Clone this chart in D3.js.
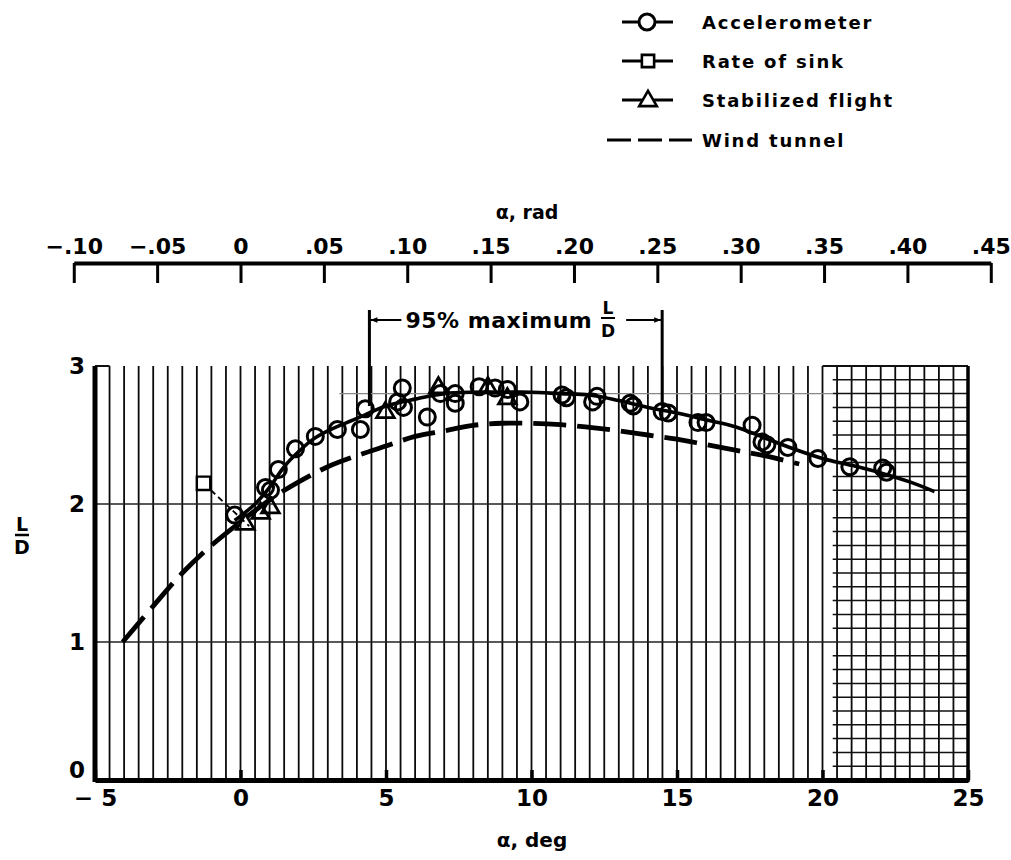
<!DOCTYPE html>
<html>
<head>
<meta charset="utf-8">
<script src="https://cdn.jsdelivr.net/npm/d3@7"></script>
<style>
  html, body { margin: 0; padding: 0; background: #fff; }
  svg { display: block; }
  text { font-family: "DejaVu Sans", "Liberation Sans", sans-serif; font-weight: bold; fill: #000; }
</style>
</head>
<body>
<script>
// Lift-drag ratio against angle of attack: flight data and wind tunnel.
const accelerometer = [
  [-0.2, 1.92], [0.86, 2.12], [1.03, 2.10], [1.3, 2.25], [1.89, 2.40], [2.57, 2.49],
  [3.33, 2.54], [4.12, 2.54], [4.29, 2.69], [5.4, 2.74], [5.56, 2.84], [5.6, 2.70],
  [6.42, 2.63], [6.87, 2.80], [7.38, 2.80], [7.38, 2.73], [8.2, 2.85], [8.75, 2.84],
  [9.17, 2.83], [9.6, 2.74], [11.05, 2.79], [11.2, 2.77], [12.1, 2.74], [12.25, 2.78],
  [13.39, 2.73], [13.5, 2.71], [14.49, 2.67], [14.7, 2.66], [15.72, 2.59], [16.0, 2.59],
  [17.58, 2.57], [17.92, 2.45], [18.09, 2.43], [18.81, 2.41], [19.84, 2.33], [20.94, 2.27],
  [22.07, 2.26], [22.2, 2.23]
];
const rateOfSink = [[-1.27, 2.15]];
const stabilized = [
  [0.17, 1.86], [0.69, 1.94], [1.03, 1.98], [4.98, 2.67], [6.8, 2.85], [8.5, 2.85], [9.17, 2.77]
];
// faired curve through the flight points
const flightFairing = [
  [-0.2, 1.88], [0.5, 2.0], [1, 2.12], [1.5, 2.27], [2, 2.38], [2.5, 2.47], [3, 2.53],
  [4, 2.62], [5, 2.71], [6, 2.76], [7, 2.8], [8, 2.81], [9, 2.81], [10, 2.81], [11, 2.8],
  [12, 2.79], [13, 2.75], [14, 2.7], [15, 2.66], [16, 2.61], [17, 2.56], [18, 2.48],
  [19, 2.4], [20, 2.33], [21, 2.28], [22, 2.225], [23, 2.16], [23.85, 2.09]
];
const sinkFairing = [[-1.27, 2.15], [0.3, 1.84]];
const windTunnel = [
  [-4.05, 1.0], [-3, 1.26], [-2, 1.5], [-1, 1.7], [0, 1.87], [1, 2.03], [2, 2.16],
  [3, 2.27], [4, 2.35], [5, 2.42], [6, 2.49], [7, 2.53], [8, 2.57], [9, 2.585],
  [10, 2.585], [11, 2.575], [12, 2.555], [13, 2.53], [14, 2.5], [15, 2.47], [16, 2.43],
  [17, 2.39], [18, 2.35], [19.2, 2.29]
];
// 95 percent of maximum L/D band, deg
const band95 = [4.43, 14.49];

const degTicks = [-5, 0, 5, 10, 15, 20, 25];
const radTicks = [-0.10, -0.05, 0, 0.05, 0.10, 0.15, 0.20, 0.25, 0.30, 0.35, 0.40, 0.45];
const ldTicks = [0, 1, 2, 3];
const legendItems = ["Accelerometer", "Rate of sink", "Stabilized flight", "Wind tunnel"];

const W = 1011, H = 860;
const svg = d3.select("body").append("svg").attr("width", W).attr("height", H);

const x = d3.scaleLinear().domain([-5, 25]).range([95, 968]);
const y = d3.scaleLinear().domain([0, 3]).range([780, 366]);
const toDeg = 180 / Math.PI;
const xr = d3.scaleLinear().domain([-0.10, 0.45]).range([x(-0.10 * toDeg), x(0.45 * toDeg)]);

// ---- graph paper grid ----
const grid = svg.append("g");
grid.selectAll("line.v").data(d3.range(-4.5, 25, 0.5)).join("line")
  .attr("x1", d => x(d)).attr("x2", d => x(d))
  .attr("y1", y(3)).attr("y2", y(0))
  .attr("stroke", "#0a0a0a").attr("stroke-width", 1.8);
const fine = d3.range(1, 30).map(i => i / 10).filter(v => Math.abs(v - 1) > 1e-6 && Math.abs(v - 2) > 1e-6);
grid.selectAll("line.h").data(fine).join("line")
  .attr("x1", x(20.35)).attr("x2", x(25))
  .attr("y1", d => y(d)).attr("y2", d => y(d))
  .attr("stroke", "#111").attr("stroke-width", 1.5);
grid.selectAll("line.m").data([1, 2]).join("line")
  .attr("x1", x(-5)).attr("x2", x(25))
  .attr("y1", d => y(d)).attr("y2", d => y(d))
  .attr("stroke", "#222").attr("stroke-width", 1.4);
grid.append("line").attr("x1", x(3.4)).attr("x2", x(20.35)).attr("y1", y(2.8)).attr("y2", y(2.8))
  .attr("stroke", "#888").attr("stroke-width", 1.2);
grid.append("line").attr("x1", x(20)).attr("x2", x(25)).attr("y1", y(3)).attr("y2", y(3))
  .attr("stroke", "#111").attr("stroke-width", 2);
grid.append("line").attr("x1", x(-5)).attr("x2", x(-4.5)).attr("y1", y(3)).attr("y2", y(3))
  .attr("stroke", "#111").attr("stroke-width", 2);

// frame
svg.append("line").attr("x1", x(-5)).attr("x2", x(-5)).attr("y1", y(3)).attr("y2", y(0) + 2)
  .attr("stroke", "#000").attr("stroke-width", 5);
svg.append("line").attr("x1", x(25)).attr("x2", x(25)).attr("y1", y(3)).attr("y2", y(0) + 2)
  .attr("stroke", "#000").attr("stroke-width", 3.5);

// ---- axes ----
const fmtDeg = d => d < 0 ? "\u2212 " + Math.abs(d) : String(d);
const degAxis = svg.append("g").attr("transform", `translate(0,${y(0)})`)
  .call(d3.axisBottom(x).tickValues(degTicks).tickFormat(fmtDeg)
    .tickSizeInner(-10).tickSizeOuter(0).tickPadding(10));
degAxis.select(".domain").attr("stroke", "#000").attr("stroke-width", 5);
degAxis.selectAll(".tick line").attr("stroke", "#000").attr("stroke-width", 3.5);
degAxis.selectAll(".tick text").attr("font-size", 23).attr("font-family", "DejaVu Sans").attr("font-weight", "bold");

const ldAxis = svg.append("g").attr("transform", `translate(${x(-5)},0)`)
  .call(d3.axisLeft(y).tickValues(ldTicks).tickFormat(d3.format("d"))
    .tickSize(0).tickPadding(10));
ldAxis.select(".domain").remove();
ldAxis.selectAll(".tick text").attr("font-size", 23).attr("font-family", "DejaVu Sans").attr("font-weight", "bold");
ldAxis.selectAll(".tick").filter(d => d === 0).select("text").attr("dy", "-0.12em");

const fmtRad = d => d === 0 ? "0" : (d < 0 ? "\u2212" : "") + d3.format(".2f")(Math.abs(d)).replace(/^0/, "");
const radAxis = svg.append("g").attr("transform", "translate(0,263)")
  .call(d3.axisTop(xr).tickValues(radTicks).tickFormat(fmtRad)
    .tickSizeInner(-20).tickSizeOuter(0).tickPadding(9));
radAxis.select(".domain").attr("stroke", "#000").attr("stroke-width", 4);
radAxis.selectAll(".tick line").attr("stroke", "#000").attr("stroke-width", 3);
radAxis.selectAll(".tick text").attr("font-size", 22).attr("font-family", "DejaVu Sans").attr("font-weight", "bold");

svg.append("text").attr("x", 527).attr("y", 219).attr("text-anchor", "middle")
  .attr("font-size", 19).text("\u03b1, rad");
svg.append("text").attr("x", 532).attr("y", 847).attr("text-anchor", "middle")
  .attr("font-size", 20).text("\u03b1, deg");

// L/D label
const ld = svg.append("g").attr("transform", "translate(22,0)");
ld.append("text").attr("x", 0).attr("y", 531).attr("text-anchor", "middle").attr("font-size", 19).text("L");
ld.append("line").attr("x1", -7).attr("x2", 7).attr("y1", 535).attr("y2", 535).attr("stroke", "#000").attr("stroke-width", 2.5);
ld.append("text").attr("x", 0).attr("y", 554).attr("text-anchor", "middle").attr("font-size", 19).text("D");

// ---- 95% maximum L/D bracket ----
const defs = svg.append("defs");
defs.append("marker").attr("id", "arr").attr("viewBox", "0 0 10 10").attr("refX", 10).attr("refY", 5)
  .attr("markerWidth", 9).attr("markerHeight", 7).attr("markerUnits", "userSpaceOnUse").attr("orient", "auto")
  .append("path").attr("d", "M0,1 L10,5 L0,9 Z").attr("fill", "#000");
const bx0 = x(band95[0]), bx1 = x(band95[1]);
svg.selectAll("line.band").data(band95).join("line")
  .attr("x1", d => x(d)).attr("x2", d => x(d)).attr("y1", 310).attr("y2", 406)
  .attr("stroke", "#000").attr("stroke-width", 3);
svg.append("line").attr("x1", bx0 + 32).attr("x2", bx0 + 1).attr("y1", 320).attr("y2", 320)
  .attr("stroke", "#000").attr("stroke-width", 2).attr("marker-end", "url(#arr)");
svg.append("line").attr("x1", bx1 - 36).attr("x2", bx1 - 1).attr("y1", 320).attr("y2", 320)
  .attr("stroke", "#000").attr("stroke-width", 2).attr("marker-end", "url(#arr)");
svg.append("text").attr("x", bx0 + 36).attr("y", 328).attr("font-size", 22).attr("letter-spacing", 0.5)
  .text("95% maximum");
svg.append("text").attr("x", 608).attr("y", 314).attr("text-anchor", "middle").attr("font-size", 17).text("L");
svg.append("line").attr("x1", 601).attr("x2", 615).attr("y1", 318).attr("y2", 318).attr("stroke", "#000").attr("stroke-width", 2);
svg.append("text").attr("x", 608).attr("y", 337).attr("text-anchor", "middle").attr("font-size", 17).text("D");

// ---- curves ----
const line = d3.line().x(d => x(d[0])).y(d => y(d[1])).curve(d3.curveCatmullRom.alpha(0.5));
svg.append("path").datum(windTunnel).attr("d", line).attr("fill", "none")
  .attr("stroke", "#000").attr("stroke-width", 4.8).attr("stroke-dasharray", "33,11");
svg.append("path").datum(sinkFairing).attr("d", d3.line().x(d => x(d[0])).y(d => y(d[1])))
  .attr("fill", "none").attr("stroke", "#000").attr("stroke-width", 1.8).attr("stroke-dasharray", "6,4");
svg.append("path").datum(flightFairing).attr("d", line).attr("fill", "none")
  .attr("stroke", "#000").attr("stroke-width", 3.6);

// ---- points ----
const sq = d3.symbol().type(d3.symbolSquare).size(180);
const tri = d3.symbol().type(d3.symbolTriangle).size(135);
svg.append("g").selectAll("circle").data(accelerometer).join("circle")
  .attr("cx", d => x(d[0])).attr("cy", d => y(d[1])).attr("r", 8)
  .attr("fill", "none").attr("stroke", "#000").attr("stroke-width", 3);
svg.append("g").selectAll("path").data(rateOfSink).join("path")
  .attr("transform", d => `translate(${x(d[0])},${y(d[1])})`).attr("d", sq)
  .attr("fill", "#fff").attr("stroke", "#000").attr("stroke-width", 2.4);
svg.append("g").selectAll("path").data(stabilized).join("path")
  .attr("transform", d => `translate(${x(d[0])},${y(d[1]) + 1})`).attr("d", tri)
  .attr("fill", "none").attr("stroke", "#000").attr("stroke-width", 2.8);

// ---- legend ----
const lg = svg.append("g");
const rowY = [22, 61, 100, 140];
legendItems.forEach((name, i) => {
  const g = lg.append("g").attr("transform", `translate(0,${rowY[i]})`);
  if (i < 3) {
    g.append("line").attr("x1", 622).attr("x2", 673).attr("y1", 0).attr("y2", 0)
      .attr("stroke", "#000").attr("stroke-width", 3.2);
    if (i === 0) g.append("circle").attr("cx", 647).attr("cy", 0).attr("r", 8)
      .attr("fill", "#fff").attr("stroke", "#000").attr("stroke-width", 3);
    if (i === 1) g.append("path").attr("transform", "translate(648,0)").attr("d", d3.symbol().type(d3.symbolSquare).size(150))
      .attr("fill", "#fff").attr("stroke", "#000").attr("stroke-width", 2.6);
    if (i === 2) g.append("path").attr("transform", "translate(648,1)").attr("d", tri)
      .attr("fill", "#fff").attr("stroke", "#000").attr("stroke-width", 2.6);
  } else {
    g.append("line").attr("x1", 607).attr("x2", 692).attr("y1", 0).attr("y2", 0)
      .attr("stroke", "#000").attr("stroke-width", 3.2).attr("stroke-dasharray", "24,7");
  }
  g.append("text").attr("x", 702).attr("y", 7).attr("font-size", 18).attr("letter-spacing", 1.8).text(name);
});
</script>
</body>
</html>
